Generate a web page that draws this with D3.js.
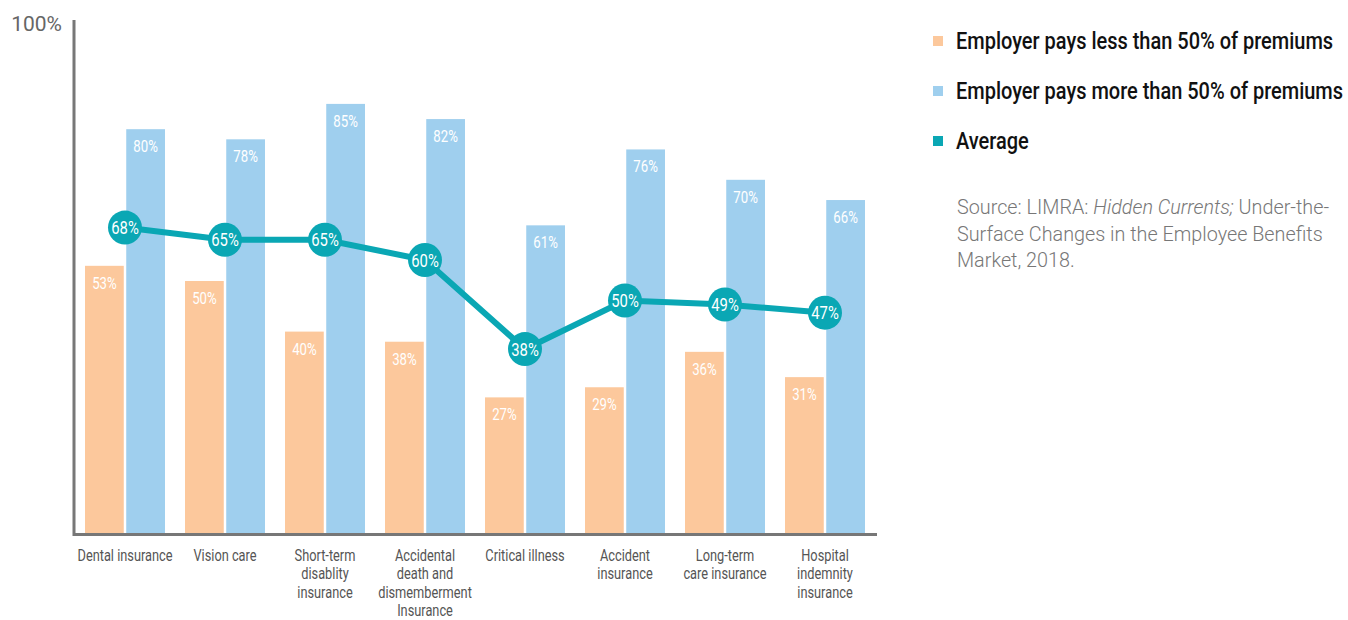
<!DOCTYPE html>
<html><head><meta charset="utf-8">
<script src="https://cdn.jsdelivr.net/npm/d3@7"></script>
<style>
body{margin:0;background:#fff;}
.cond{font-family:Roboto,"Noto Sans",sans-serif;}
</style></head>
<body><svg id="c" width="1348" height="620"></svg>
<script>
const categories = [
  ["Dental insurance"],
  ["Vision care"],
  ["Short-term","disablity","insurance"],
  ["Accidental","death and","dismemberment","Insurance"],
  ["Critical illness"],
  ["Accident","insurance"],
  ["Long-term","care insurance"],
  ["Hospital","indemnity","insurance"]
];
const lessThan50 = [53, 50, 40, 38, 27, 29, 36, 31];
const moreThan50 = [80, 78, 85, 82, 61, 76, 70, 66];
const average = [68, 65, 65, 60, 38, 50, 49, 47];
const legendLabels = ["Employer pays less than 50% of premiums","Employer pays more than 50% of premiums","Average"];
const colors = ["#fcc89c","#9fcfee","#0aa7b4"];
const SX = 0.8; // horizontal condensing factor

const svg = d3.select("#c");
const idx = d3.range(categories.length);
const x = d3.scaleBand().domain(idx).range([75,875]).paddingInner(0.2).paddingOuter(0.1);
const x1 = d3.scaleBand().domain([0,1]).range([0,x.bandwidth()]).paddingInner(0.06);
const y = d3.scaleLinear().domain([0,100]).range([534,28]);
const y2 = d3.scaleLinear().domain([0,100]).range([503,98]);

function ctext(g, px, py, sx){
  return g.append("text").attr("class","cond")
    .attr("transform",`translate(${px},${py}) scale(${sx||SX},1)`);
}

// bars
[lessThan50, moreThan50].forEach((arr,s)=>{
  const g = svg.append("g");
  g.selectAll("rect").data(arr).join("rect")
    .attr("x",(d,i)=>x(i)+x1(s)).attr("y",d=>y(d))
    .attr("width",x1.bandwidth()).attr("height",d=>y(0)-y(d))
    .attr("fill",colors[s]);
  arr.forEach((d,i)=>{
    ctext(g, x(i)+x1(s)+x1.bandwidth()/2, y(d)+23)
      .attr("text-anchor","middle").attr("fill","#fff").attr("font-size",16.5)
      .attr("font-weight",400).text(d+"%");
  });
});

// axes
const axis = svg.append("g").attr("stroke","#777").attr("stroke-width",3).attr("fill","none");
axis.append("path").attr("d",`M74,20V534.5H877`);
svg.append("text").attr("class","cond").attr("x",62).attr("y",31).attr("text-anchor","end")
  .attr("font-size",21).attr("fill","#666").text("100%");

// x labels
const xl = svg.append("g");
categories.forEach((lines,i)=>{
  const t = ctext(xl, x(i)+x.bandwidth()/2, 561).attr("text-anchor","middle")
    .attr("font-size",16).attr("font-weight",400).attr("fill","#555");
  lines.forEach((ln,j)=>t.append("tspan").attr("x",0).attr("y",j*18.3).text(ln));
});

// average line
const cx = i=>x(i)+x.bandwidth()/2;
svg.append("path").datum(average)
  .attr("d",d3.line().x((d,i)=>cx(i)).y(d=>y2(d)))
  .attr("fill","none").attr("stroke",colors[2]).attr("stroke-width",6);
const ag = svg.append("g");
ag.selectAll("circle").data(average).join("circle")
  .attr("cx",(d,i)=>cx(i)).attr("cy",d=>y2(d)).attr("r",17).attr("fill",colors[2]);
average.forEach((d,i)=>{
  ctext(ag, cx(i), y2(d)+6.5).attr("text-anchor","middle")
    .attr("fill","#fff").attr("font-size",18.5).attr("font-weight",400).text(d+"%");
});

// legend
const lg = svg.append("g");
legendLabels.forEach((l,i)=>{
  const yy = 41 + i*50;
  lg.append("rect").attr("x",933).attr("y",yy-5).attr("width",10).attr("height",10).attr("fill",colors[i]);
  ctext(lg, 956, yy+8).attr("font-size",23).attr("font-weight",500).attr("fill","#111").text(l);
});
// fit legend width to reference (longest line ~387px)
const lt = lg.selectAll("text").nodes();
const f = 387 / lt[1].getComputedTextLength();
lt.forEach(n=>d3.select(n).attr("transform", d3.select(n).attr("transform").replace(/scale\([^)]*\)/,`scale(${f},1)`)));

// source
const src = svg.append("text").attr("font-family","Roboto, 'Open Sans', sans-serif")
  .attr("font-size",19.8).attr("fill","#777").attr("font-weight",300);
const l1 = src.append("tspan").attr("x",957).attr("y",214);
l1.append("tspan").text("Source: LIMRA: ");
l1.append("tspan").attr("font-style","italic").text("Hidden Currents;");
l1.append("tspan").text(" Under-the-");
src.append("tspan").attr("x",957).attr("y",241).text("Surface Changes in the Employee Benefits");
src.append("tspan").attr("x",957).attr("y",267).text("Market, 2018.");
</script></body></html>
